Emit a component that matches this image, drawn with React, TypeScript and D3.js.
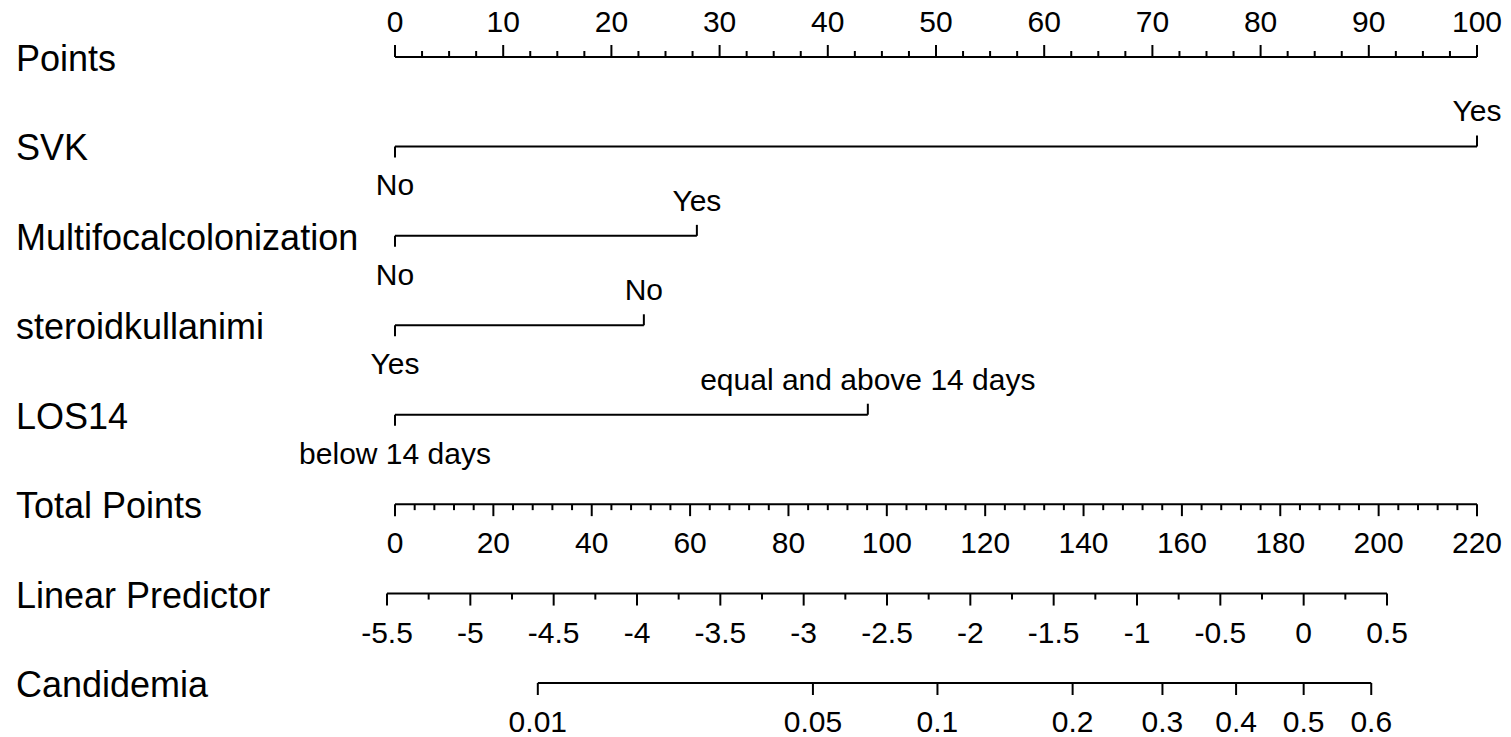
import React from 'react';
import * as d3 from 'd3';

// nomogram rows, top to bottom
const rowLabels = ['Points', 'SVK', 'Multifocalcolonization', 'steroidkullanimi', 'LOS14', 'Total Points', 'Linear Predictor', 'Candidemia'];

// predictor levels: the level at 0 points is drawn below, the other one above
const lowLevels = ['No', 'No', 'Yes', 'below 14 days'];
const highLevels = ['Yes', 'Yes', 'No', 'equal and above 14 days'];
const highPoints = [100, 27.9, 23, 43.7];

const pointTicks = [0, 10, 20, 30, 40, 50, 60, 70, 80, 90, 100];
const totalTicks = [0, 20, 40, 60, 80, 100, 120, 140, 160, 180, 200, 220];
const lpTicks = [-5.5, -5, -4.5, -4, -3.5, -3, -2.5, -2, -1.5, -1, -0.5, 0, 0.5];
const probTicks = [0.01, 0.05, 0.1, 0.2, 0.3, 0.4, 0.5, 0.6];

const W = 1511;
const H = 737;
const FONT = "'Liberation Sans', Arial, sans-serif";

const App = () => {
  const y = d3.scaleLinear().domain([0, 7]).range([57, 683]);
  const xPts = d3.scaleLinear().domain([0, 100]).range([395, 1477]);
  const xTot = d3.scaleLinear().domain([0, 220]).range([395, 1477]);
  const xLp = d3.scaleLinear().domain([-5.5, 0.5]).range([387, 1387]);
  const xProb = (p: number) => xLp(Math.log(p / (1 - p)));

  const major = 12;
  const minor = 6;
  const stroke = { stroke: '#000', strokeWidth: 2, fill: 'none' };
  const tickFont = { fontFamily: FONT, fontSize: 30, textAnchor: 'middle' as const };

  const ptsMinor = d3.range(0, 100.01, 2.5);
  const totMinor = d3.range(0, 220.01, 4);
  const lpMinor = d3.range(-5.5, 0.51, 0.25);

  return (
    <svg width={W} height={H} style={{ position: 'absolute', left: 0, top: 0, background: 'white' }}>
      {rowLabels.map((l, i) => (
        <text key={l} x={16} y={y(i) + 14} style={{ fontFamily: FONT, fontSize: 36 }}>{l}</text>
      ))}

      {/* Points */}
      <g>
        <line x1={xPts(0)} x2={xPts(100)} y1={y(0)} y2={y(0)} {...stroke} />
        {ptsMinor.map((v) => {
          const isMajor = Math.abs(v % 10) < 1e-9;
          return <line key={v} x1={xPts(v)} x2={xPts(v)} y1={y(0)} y2={y(0) - (isMajor ? major : minor)} {...stroke} />;
        })}
        {pointTicks.map((v) => (
          <text key={v} x={xPts(v)} y={y(0) - 25} style={tickFont}>{v}</text>
        ))}
      </g>

      {/* predictors */}
      {highPoints.map((hp, j) => {
        const yy = y(j + 1);
        return (
          <g key={j}>
            <line x1={xPts(0)} x2={xPts(hp)} y1={yy} y2={yy} {...stroke} />
            <line x1={xPts(0)} x2={xPts(0)} y1={yy} y2={yy + 11} {...stroke} />
            <line x1={xPts(hp)} x2={xPts(hp)} y1={yy} y2={yy - 11} {...stroke} />
            <text x={xPts(0)} y={yy + 49} style={tickFont}>{lowLevels[j]}</text>
            <text x={xPts(hp)} y={yy - 25} style={tickFont}>{highLevels[j]}</text>
          </g>
        );
      })}

      {/* Total Points */}
      <g>
        <line x1={xTot(0)} x2={xTot(220)} y1={y(5)} y2={y(5)} {...stroke} />
        {totMinor.map((v) => {
          const isMajor = Math.abs(v % 20) < 1e-9;
          return <line key={v} x1={xTot(v)} x2={xTot(v)} y1={y(5)} y2={y(5) + (isMajor ? major : minor)} {...stroke} />;
        })}
        {totalTicks.map((v) => (
          <text key={v} x={xTot(v)} y={y(5) + 49} style={tickFont}>{v}</text>
        ))}
      </g>

      {/* Linear Predictor */}
      <g>
        <line x1={xLp(-5.5)} x2={xLp(0.5)} y1={y(6)} y2={y(6)} {...stroke} />
        {lpMinor.map((v) => {
          const isMajor = Math.abs((v * 2) % 1) < 1e-9;
          return <line key={v} x1={xLp(v)} x2={xLp(v)} y1={y(6)} y2={y(6) + (isMajor ? major : minor)} {...stroke} />;
        })}
        {lpTicks.map((v) => (
          <text key={v} x={xLp(v)} y={y(6) + 49} style={tickFont}>{v}</text>
        ))}
      </g>

      {/* Candidemia */}
      <g>
        <line x1={xProb(0.01)} x2={xProb(0.6)} y1={y(7)} y2={y(7)} {...stroke} />
        {probTicks.map((p) => (
          <g key={p}>
            <line x1={xProb(p)} x2={xProb(p)} y1={y(7)} y2={y(7) + major} {...stroke} />
            <text x={xProb(p)} y={y(7) + 49} style={tickFont}>{p}</text>
          </g>
        ))}
      </g>
    </svg>
  );
};

export default App;
